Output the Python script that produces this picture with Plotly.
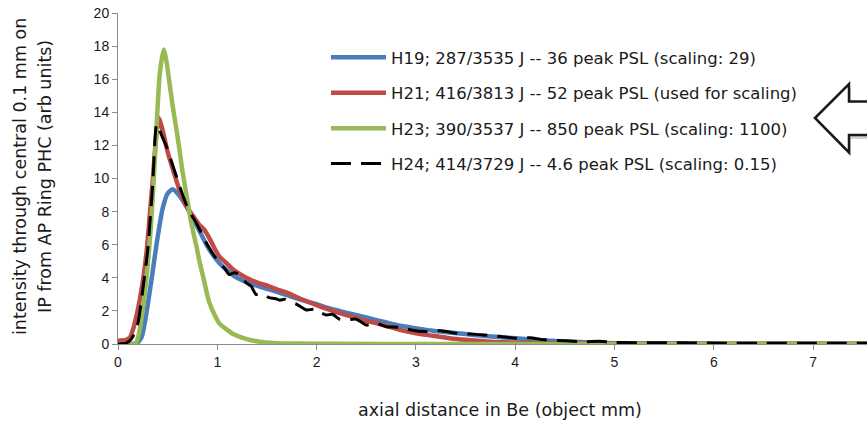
import plotly.graph_objects as go

# ---- data -------------------------------------------------------------
h19_x = [0, 0.15, 0.2, 0.24, 0.29, 0.34, 0.39, 0.45, 0.5, 0.55, 0.6, 0.66, 0.72, 0.78,
         0.84, 0.9, 0.96, 1.02, 1.09, 1.16, 1.25, 1.33, 1.41, 1.49, 1.6, 1.7, 1.83, 2.0,
         2.16, 2.33, 2.5, 2.67, 2.84, 3.0, 3.17, 3.34, 3.5, 3.67, 3.84, 4.0, 4.2, 4.35,
         4.55, 4.75, 5.0, 5.5, 6.0, 7.6]
h19_y = [0, 0, 0.1, 0.45, 2.0, 4.0, 6.1, 8.2, 9.1, 9.35, 9.1, 8.6, 8.0, 7.3,
         6.6, 5.9, 5.35, 4.9, 4.5, 4.15, 3.85, 3.65, 3.5, 3.35, 3.15, 2.95, 2.7, 2.4,
         2.1, 1.85, 1.6, 1.35, 1.1, 0.95, 0.8, 0.7, 0.6, 0.5, 0.42, 0.35, 0.26, 0.2,
         0.14, 0.09, 0.05, 0.03, 0.02, 0.02]

h21_x = [0, 0.08, 0.12, 0.15, 0.19, 0.22, 0.26, 0.29, 0.32, 0.35, 0.38, 0.41, 0.45, 0.5,
         0.55, 0.62, 0.69, 0.76, 0.82, 0.87, 0.92, 0.97, 1.02, 1.09, 1.16, 1.25, 1.33,
         1.41, 1.49, 1.6, 1.7, 1.83, 2.0, 2.16, 2.33, 2.5, 2.67, 2.84, 3.0, 3.17, 3.34,
         3.5, 3.71, 3.9, 4.2, 4.6, 5.0, 6.0, 7.6]
h21_y = [0.2, 0.25, 0.4, 0.85, 1.8, 2.7, 4.2, 5.7, 7.8, 9.9, 12.2, 13.65, 12.9, 11.6,
         10.6, 9.3, 8.3, 7.7, 7.2, 6.9, 6.4, 5.8, 5.3, 4.9, 4.5, 4.15, 3.9,
         3.7, 3.55, 3.3, 3.1, 2.75, 2.35, 2.0, 1.7, 1.4, 1.15, 0.85, 0.65, 0.5, 0.35,
         0.25, 0.15, 0.1, 0.06, 0.04, 0.03, 0.02, 0.02]

h23_x = [0, 0.12, 0.18, 0.21, 0.24, 0.27, 0.3, 0.33, 0.36, 0.39, 0.42, 0.46, 0.49, 0.52,
         0.55, 0.59, 0.62, 0.65, 0.69, 0.72, 0.76, 0.79, 0.82, 0.86, 0.89, 0.92, 0.97,
         1.02, 1.09, 1.16, 1.25, 1.33, 1.41, 1.49, 1.6, 1.8, 2.2, 3.0, 7.6]
h23_y = [0, 0, 0.05, 0.6, 1.7, 3.1, 4.8, 7.0, 10.0, 13.3, 16.3, 17.8, 17.0, 15.7,
         14.4, 12.9, 11.7, 10.4, 9.0, 7.9, 6.7, 5.9, 5.0, 4.0, 3.2, 2.5, 1.8,
         1.25, 0.9, 0.6, 0.38, 0.24, 0.15, 0.09, 0.05, 0.03, 0.01, 0, 0]

h24_x = [0, 0.08, 0.12, 0.15, 0.2, 0.25, 0.3, 0.35, 0.39, 0.44, 0.49, 0.54, 0.59, 0.64,
         0.69, 0.74, 0.79, 0.84, 0.89, 0.95, 1.02, 1.07, 1.12, 1.17, 1.23, 1.29, 1.34,
         1.39, 1.46, 1.52, 1.58, 1.63, 1.68, 1.73, 1.8, 1.9, 1.97, 2.04, 2.1, 2.16, 2.23,
         2.3, 2.4, 2.5, 2.6, 2.7, 2.84, 2.95, 3.1, 3.25, 3.41, 3.55, 3.68, 3.85, 4.01,
         4.15, 4.3, 4.5, 4.68, 4.85, 5.0, 5.2, 5.5, 5.8, 6.1, 6.5, 7.0, 7.6]
h24_y = [0, 0.05, 0.2, 0.45, 1.25, 3.3, 5.7, 9.7, 13.3, 12.6, 11.9, 11.0, 10.1, 9.2,
         8.4, 7.8, 7.3, 6.7, 6.1, 5.5, 4.9, 4.6, 4.2, 4.3, 4.2, 3.7, 3.5,
         3.0, 3.05, 2.8, 2.75, 2.65, 2.7, 2.55, 2.4, 2.05, 2.1, 1.9, 1.75, 1.8, 1.5,
         1.45, 1.5, 1.15, 1.25, 1.05, 1.0, 0.85, 0.75, 0.8, 0.65, 0.6, 0.55, 0.45, 0.35,
         0.38, 0.25, 0.2, 0.14, 0.16, 0.1, 0.08, 0.08, 0.06, 0.05, 0.05, 0.04, 0.04]

names = [
    "H19; 287/3535 J -- 36 peak PSL (scaling: 29)",
    "H21; 416/3813 J -- 52 peak PSL (used for scaling)",
    "H23; 390/3537 J -- 850 peak PSL (scaling: 1100)",
    "H24; 414/3729 J -- 4.6 peak PSL (scaling: 0.15)",
]
x_ticks = [0, 1, 2, 3, 4, 5, 6, 7]
y_ticks = [0, 2, 4, 6, 8, 10, 12, 14, 16, 18, 20]

# ---- geometry (pixels) ----------------------------------------------
W, H = 867, 423
L, R, T, B = 118, 0, 13, 79
PW, PH = W - L - R, H - T - B


def px(xp):
    return (xp - L) / PW


def py(yp):
    return (H - B - yp) / PH


FONT = "DejaVu Sans"
TXT = "#1a1a1a"

fig = go.Figure()
series = [
    (h19_x, h19_y, "#4A7EBB", 4.5, "solid"),
    (h21_x, h21_y, "#BE4B48", 4.5, "solid"),
    (h23_x, h23_y, "#98B954", 4.5, "solid"),
    (h24_x, h24_y, "#000000", 3, "20px,10px"),
]
for i, (xs, ys, col, lw, dash) in enumerate(series):
    fig.add_trace(go.Scatter(
        x=xs, y=ys, mode="lines", name=names[i], legendgroup=f"g{i}",
        line=dict(color=col, width=lw, dash=dash, shape="spline", smoothing=0.6),
    ))

axis_common = dict(
    showgrid=False, zeroline=False, showline=True, linecolor="#8c8c8c", linewidth=1,
    ticks="outside", ticklen=5, tickcolor="#8c8c8c",
    tickfont=dict(family="Liberation Sans", size=14, color=TXT),
)
fig.update_xaxes(range=[0, PW / 99.3], tickvals=x_ticks, **axis_common)
fig.update_yaxes(range=[0, 20], tickvals=y_ticks, **axis_common)

# big outlined arrow pointing at the legend
pts = [(815, 118), (849, 84), (849, 101.5), (880, 101.5), (880, 135),
       (849, 135), (849, 152.5)]


def arrow_path(dx, dy):
    return "M " + " L ".join(f"{px(a + dx):.5f},{py(b + dy):.5f}" for a, b in pts) + " Z"


fig.add_shape(type="path", xref="paper", yref="paper", path=arrow_path(2, 4),
              fillcolor="rgba(0,0,0,0.18)", line=dict(width=0))
fig.add_shape(type="path", xref="paper", yref="paper", path=arrow_path(0, 0),
              fillcolor="white", line=dict(color="#1a1a1a", width=2.5))

TITLE_SIZE = 17.5
fig.add_annotation(text="intensity through central 0.1 mm on", xref="paper", yref="paper",
                   x=px(20), y=py(177), textangle=-90, showarrow=False,
                   xanchor="center", yanchor="middle",
                   font=dict(family=FONT, size=TITLE_SIZE, color=TXT))
fig.add_annotation(text="IP from AP Ring PHC (arb units)", xref="paper", yref="paper",
                   x=px(45), y=py(177), textangle=-90, showarrow=False,
                   xanchor="center", yanchor="middle",
                   font=dict(family=FONT, size=TITLE_SIZE, color=TXT))
fig.add_annotation(text="axial distance in Be (object mm)", xref="paper", yref="paper",
                   x=px(500), y=py(410), showarrow=False,
                   xanchor="center", yanchor="middle",
                   font=dict(family=FONT, size=TITLE_SIZE, color=TXT))

fig.update_layout(
    width=W, height=H, autosize=False,
    margin=dict(l=L, r=R, t=T, b=B, pad=0),
    plot_bgcolor="white", paper_bgcolor="white",
    showlegend=True,
    legend=dict(x=px(326), y=py(40), xanchor="left", yanchor="top",
                bgcolor="rgba(0,0,0,0)", borderwidth=0, tracegroupgap=11,
                itemwidth=55,
                font=dict(family=FONT, size=16.5, color=TXT)),
)

fig.write_html("out.html")
